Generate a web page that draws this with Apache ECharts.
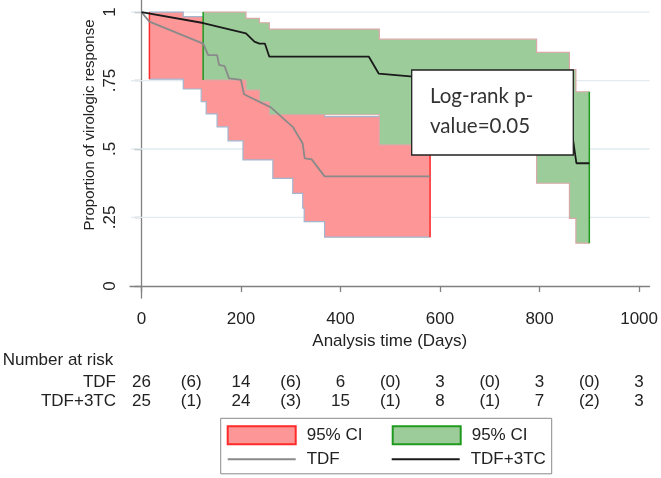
<!DOCTYPE html>
<html>
<head>
<meta charset="utf-8">
<script src="https://cdn.jsdelivr.net/npm/echarts@6/dist/echarts.min.js"></script>
<style>
html,body{margin:0;padding:0;background:#fff;}
#chart{width:661px;height:478px;}
</style>
</head>
<body>
<div id="chart"></div>
<script>
// ---- Data ----
// Kaplan-Meier estimates
const tdfTime = [0, 16, 124, 134, 152, 156, 167, 176, 200, 206, 260, 304, 324, 328, 342, 368, 580];
const tdfSurv = [1, 0.965, 0.885, 0.843, 0.843, 0.807, 0.803, 0.758, 0.752, 0.70, 0.652, 0.581, 0.52, 0.466, 0.462, 0.40, 0.40];
const comboTime = [0, 124, 210, 227, 237, 248, 257, 457, 477, 540, 840, 866, 874, 900];
const comboSurv = [1, 0.96, 0.922, 0.892, 0.885, 0.885, 0.837, 0.837, 0.775, 0.765, 0.765, 0.55, 0.448, 0.448];

// 95% CI step bands (value i holds from time i to time i+1)
const tdfCiTime  = [16, 84, 120, 130, 152, 174, 204, 264, 304, 324, 327, 368, 580];
const tdfCiUpper = [1.0, 0.983, 0.983, 0.983, 0.95, 0.95, 0.90, 0.84, 0.78, 0.78, 0.70, 0.618, 0.618];
const tdfCiLower = [0.755, 0.719, 0.673, 0.628, 0.581, 0.530, 0.46, 0.393, 0.338, 0.284, 0.235, 0.178, 0.178];
const comboCiTime  = [124, 210, 237, 257, 478, 794, 860, 873, 900];
const comboCiUpper = [1.0, 0.977, 0.961, 0.938, 0.901, 0.853, 0.79, 0.709, 0.709];
const comboCiLower = [0.752, 0.715, 0.672, 0.625, 0.515, 0.375, 0.247, 0.156, 0.156];

// Axis ticks
const xTicks = [0, 200, 400, 600, 800, 1000];
const yTicks = [0, 0.25, 0.5, 0.75, 1];
const yTickLabels = ['0', '.25', '.5', '.75', '1'];
const yGridLines = [0.25, 0.5, 0.75, 1];

// Number at risk table
const riskTicks = [0, 100, 200, 300, 400, 500, 600, 700, 800, 900, 1000];
const tdfRisk   = ['26', '(6)', '14', '(6)', '6', '(0)', '3', '(0)', '3', '(0)', '3'];
const comboRisk = ['25', '(1)', '24', '(3)', '15', '(1)', '8', '(1)', '7', '(2)', '3'];

const annotationText = 'Log-rank p-\nvalue=0.05';

// ---- Chart ----
const FONT = "Arial, 'Liberation Sans', Helvetica, sans-serif";
const AXIS_COLOR = '#808080';
const TEXT_COLOR = '#222';

function bandSeries(name, times, upper, lower, fill, edge, endColor) {
  return {
    type: 'custom',
    name: name,
    coordinateSystem: 'cartesian2d',
    itemStyle: { color: fill },
    data: times.map((t, i) => [t, upper[i], lower[i]]),
    encode: { x: 0, y: [1, 2] },
    silent: true,
    z: 2,
    renderItem: function (params, api) {
      if (params.dataIndex !== 0) return null;
      const up = [], lo = [];
      for (let i = 0; i < times.length - 1; i++) {
        up.push(api.coord([times[i], upper[i]]));
        up.push(api.coord([times[i + 1], upper[i]]));
        lo.push(api.coord([times[i], lower[i]]));
        lo.push(api.coord([times[i + 1], lower[i]]));
      }
      const poly = up.concat(lo.slice().reverse());
      const n = up.length - 1;
      return {
        type: 'group',
        children: [
          { type: 'polygon', shape: { points: poly }, style: { fill: fill, stroke: null } },
          { type: 'polyline', shape: { points: up }, style: { fill: null, stroke: edge, lineWidth: 1.2 } },
          { type: 'polyline', shape: { points: lo }, style: { fill: null, stroke: edge, lineWidth: 1.2 } },
          { type: 'line', shape: { x1: up[0][0], y1: up[0][1], x2: lo[0][0], y2: lo[0][1] }, style: { stroke: endColor, lineWidth: 1.5 } },
          { type: 'line', shape: { x1: up[n][0], y1: up[n][1], x2: lo[n][0], y2: lo[n][1] }, style: { stroke: endColor, lineWidth: 1.5 } }
        ]
      };
    }
  };
}

const riskAxis = (offset, labels) => ({
  type: 'value', gridIndex: 0, position: 'bottom', min: -23, max: 1021, offset: offset,
  axisLine: { show: false }, axisTick: { show: false }, splitLine: { show: false },
  axisLabel: {
    customValues: riskTicks, margin: 0, fontSize: 17, fontFamily: FONT, color: TEXT_COLOR,
    formatter: v => labels[riskTicks.indexOf(v)]
  }
});

const legendRich = {
  a: { width: 81, padding: [0, 0, 0, 6], fontSize: 17, lineHeight: 16, fontFamily: FONT, color: TEXT_COLOR },
  b: { width: 76, padding: [0, 0, 0, 6], fontSize: 17, lineHeight: 16, fontFamily: FONT, color: TEXT_COLOR }
};
const legendFirstColumn = ['TDF CI', 'TDF'];

const option = {
  animation: false,
  backgroundColor: '#fff',
  grid: { left: 130, right: 9, top: 0, bottom: 180, containLabel: false },
  xAxis: [
    {
      type: 'value', min: -23, max: 1021, position: 'bottom',
      axisLine: { show: true, lineStyle: { color: AXIS_COLOR, width: 1.3 } },
      axisTick: { show: true, customValues: xTicks, length: 6, lineStyle: { color: AXIS_COLOR, width: 1.3 } },
      axisLabel: { customValues: xTicks, margin: 13, fontSize: 17, fontFamily: FONT, color: TEXT_COLOR, formatter: v => String(v) },
      splitLine: { show: false },
      name: 'Analysis time (Days)', nameLocation: 'middle', nameGap: 30,
      nameTextStyle: { fontSize: 17, fontFamily: FONT, color: TEXT_COLOR }
    },
    riskAxis(75.5, tdfRisk),
    riskAxis(95, comboRisk)
  ],
  yAxis: {
    type: 'value', min: -0.044, max: 1.044,
    axisLine: { show: true, lineStyle: { color: AXIS_COLOR, width: 1.3 } },
    axisTick: { show: true, customValues: yTicks, length: 7, lineStyle: { color: AXIS_COLOR, width: 1.3 } },
    axisLabel: {
      customValues: yTicks, rotate: 90, margin: 11, fontSize: 17, fontFamily: FONT, color: TEXT_COLOR,
      formatter: v => yTickLabels[yTicks.indexOf(v)]
    },
    splitLine: { show: false }
  },
  legend: {
    left: 220.7, top: 418.3, orient: 'horizontal', width: 340,
    padding: [7, 4, 6, 6], itemGap: 4, itemWidth: 68, itemHeight: 18,
    borderColor: '#8a8a8a', borderWidth: 1, backgroundColor: '#fff',
    selectedMode: false,
    textStyle: { fontFamily: FONT, fontSize: 17, lineHeight: 16, color: TEXT_COLOR, rich: legendRich },
    formatter: name => '{' + (legendFirstColumn.indexOf(name) >= 0 ? 'a' : 'b') + '|' + (name.indexOf('CI') >= 0 ? '95% CI' : name) + '}',
    data: [
      { name: 'TDF CI', icon: 'rect', itemStyle: { color: '#fd9696', borderColor: '#ff2a2a', borderWidth: 2 } },
      { name: 'TDF+3TC CI', icon: 'rect', itemStyle: { color: '#9ccc99', borderColor: '#1f9a1f', borderWidth: 2 } },
      { name: 'TDF', icon: 'path://M0 0H68V2H0Z', itemStyle: { color: '#8a8a8a', borderWidth: 0 } },
      { name: 'TDF+3TC', icon: 'path://M0 0H68V2H0Z', itemStyle: { color: '#1a1a1a', borderWidth: 0 } }
    ]
  },
  series: [
    {
      type: 'custom', name: 'grid lines', coordinateSystem: 'cartesian2d', silent: true, z: 1,
      data: yGridLines.map(v => [0, v]),
      encode: { x: 0, y: 1 },
      renderItem: function (params, api) {
        const cs = params.coordSys;
        const p = api.coord([0, api.value(1)]);
        return { type: 'line', shape: { x1: cs.x + 1, y1: p[1], x2: cs.x + cs.width, y2: p[1] }, style: { stroke: '#e2ebf0', lineWidth: 1.3 } };
      }
    },
    bandSeries('TDF CI', tdfCiTime, tdfCiUpper, tdfCiLower, '#fd9696', '#a3b6cf', '#ff2a2a'),
    bandSeries('TDF+3TC CI', comboCiTime, comboCiUpper, comboCiLower, '#9ccc99', '#d9a9a9', '#1f9a1f'),
    {
      type: 'line', name: 'TDF', data: tdfTime.map((t, i) => [t, tdfSurv[i]]),
      symbol: 'none', showSymbol: false, z: 3, silent: true,
      itemStyle: { color: '#8a8a8a' },
      lineStyle: { color: '#8a8a8a', width: 1.8 }
    },
    {
      type: 'line', name: 'TDF+3TC', data: comboTime.map((t, i) => [t, comboSurv[i]]),
      symbol: 'none', showSymbol: false, z: 4, silent: true,
      itemStyle: { color: '#1a1a1a' },
      lineStyle: { color: '#1a1a1a', width: 1.8 }
    }
  ],
  graphic: [
    {
      type: 'text', x: 90, y: 125, rotation: Math.PI / 2, z: 100,
      style: { text: 'Proportion of virologic response', fontSize: 15, fontFamily: FONT, fill: TEXT_COLOR, align: 'center', verticalAlign: 'middle' }
    },
    {
      type: 'text', x: 2.7, y: 360.5, z: 100,
      style: { text: 'Number at risk', fontSize: 17, fontFamily: FONT, fill: TEXT_COLOR, align: 'left', verticalAlign: 'middle' }
    },
    {
      type: 'text', x: 116, y: 382, z: 100,
      style: { text: 'TDF', fontSize: 17, fontFamily: FONT, fill: TEXT_COLOR, align: 'right', verticalAlign: 'middle' }
    },
    {
      type: 'text', x: 116, y: 401.7, z: 100,
      style: { text: 'TDF+3TC', fontSize: 17, fontFamily: FONT, fill: TEXT_COLOR, align: 'right', verticalAlign: 'middle' }
    },
    {
      type: 'group', z: 100,
      children: [
        { type: 'rect', shape: { x: 411.7, y: 70, width: 161.6, height: 85 }, style: { fill: '#fff', stroke: '#222', lineWidth: 1.3 }, z: 100 },
        { type: 'text', x: 430, y: 111.7, z: 101,
          style: { text: annotationText, fontSize: 20.5, lineHeight: 30, fontFamily: "Lato, 'Open Sans', sans-serif", fill: '#333', align: 'left', verticalAlign: 'middle' } }
      ]
    }
  ]
};

const chart = echarts.init(document.getElementById('chart'), null, { renderer: 'canvas' });
chart.setOption(option);
</script>
</body>
</html>
